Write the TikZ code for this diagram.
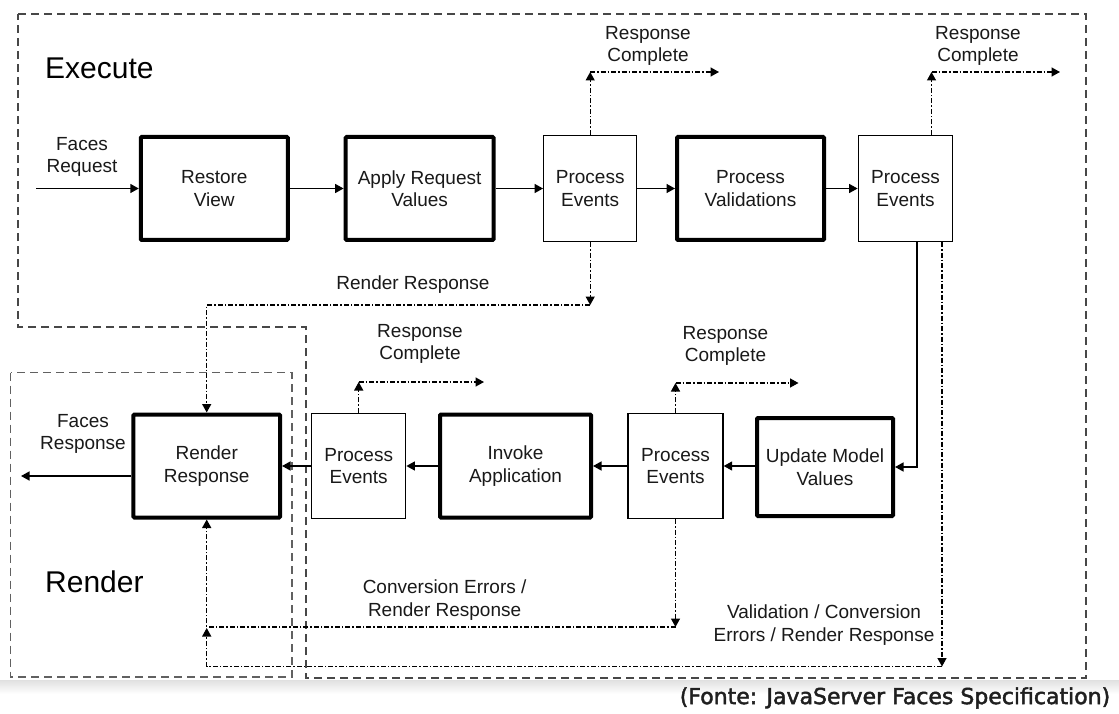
\documentclass[tikz,border=0pt]{standalone}
\usepackage{fontspec}
\setmainfont{Liberation Sans}
\newfontfamily\footfont[FakeBold=2]{DejaVu Sans}
\usetikzlibrary{arrows.meta}

\begin{document}
\begin{tikzpicture}[x=1pt,y=-1pt,
  lbl/.style={font=\fontsize{19}{22.5}\selectfont, align=center, inner sep=0pt, text=black!90},
  phasetitle/.style={font=\fontsize{30}{36}\selectfont, anchor=west, inner sep=0pt},
  phase/.style={draw, fill=white, line width=4pt, rounded corners=1pt,
    minimum width=147pt, minimum height=103pt, lbl},
  evbox/.style={draw, fill=white, line width=1.3pt,
    minimum width=94pt, minimum height=106pt, lbl},
  tip/.style={-{Triangle[length=8.5pt,width=9pt]}},
  main/.style={line width=1.4pt, tip},
  flow/.style={line width=1.4pt, dash pattern=on 5pt off 2pt on 1.5pt off 2pt, tip},
  region/.style={draw=black!72, line width=1.4pt, dash pattern=on 8pt off 5pt}
]
\useasboundingbox (0,0) rectangle (1119,714);
\fill[white] (0,0) rectangle (1119,714);
\shade[top color=black!12, bottom color=white] (0,680) rectangle (1119,694);

% phase regions
\draw[region] (18,14) -- (1086,14) -- (1086,678) -- (306,678) -- (306,327) -- (18,327) -- cycle;
\draw[region, draw=black!62] (10.7,372.7) rectangle (292,677);
\node[phasetitle] (exec) at (45,68) {Execute};
\node[phasetitle] (rend) at (45,582) {Render};

% execute row
\node[phase] (RV) at (214.3,188.5) {Restore\\View};
\node[phase, minimum width=148pt] (ARV) at (419.6,188.5) {Apply Request\\Values};
\node[evbox, minimum width=93pt] (PE1) at (590.2,188.5) {Process\\Events};
\node[phase] (PV) at (750.5,188.5) {Process\\Validations};
\node[evbox, minimum width=94.5pt] (PE2) at (905.5,188.5) {Process\\Events};

% render row
\node[phase, minimum width=146.6pt] (RR) at (206.7,466) {Render\\Response};
\node[evbox, minimum height=105pt] (PE3) at (358.7,466) {Process\\Events};
\node[phase, minimum width=151pt] (IA) at (515.5,466) {Invoke\\Application};
\node[evbox, minimum width=95pt, minimum height=105pt] (PE4) at (675.5,466) {Process\\Events};
\node[phase, minimum width=136pt, minimum height=98pt] (UMV) at (825,467) {Update Model\\Values};

% request / response ends
\coordinate (fin) at (36,188.5);
\coordinate (fout) at (21,476);
\draw[main] (fin) -- (RV.west);
\draw[main] (RR.west |- fout) -- (fout);
\node[lbl] (lreq) at (82,157) {Faces\\Request};
\node[lbl] (lresp) at (83,434) {Faces\\Response};

% main flow
\draw[main] (RV.east) -- (ARV.west);
\draw[main] (ARV.east) -- (PE1.west);
\draw[main] (PE1.east) -- (PV.west);
\draw[main] (PV.east) -- (PE2.west);
\coordinate (um) at (917,467);
\draw[main] (um |- PE2.south) -- (um) -- (UMV.east);
\draw[main] (UMV.west |- PE4.east) -- (PE4.east);
\draw[main] (PE4.west) -- (IA.east);
\draw[main] (IA.west) -- (PE3.east);
\draw[main] (PE3.west) -- (RR.east);

% response complete exits
\coordinate (rc1) at (590.2,72);  \coordinate (rc1e) at (719,72);
\draw[flow] (PE1.north) -- (rc1);
\draw[flow] (rc1) -- (rc1e);
\node[lbl] (lrc1) at (648,46) {Response\\Complete};

\coordinate (rc2) at (931.5,72);  \coordinate (rc2e) at (1060,72);
\draw[flow] (rc2 |- PE2.north) -- (rc2);
\draw[flow] (rc2) -- (rc2e);
\node[lbl] (lrc2) at (978,46) {Response\\Complete};

\coordinate (rc3) at (358.7,382); \coordinate (rc3e) at (484,382);
\draw[flow] (PE3.north) -- (rc3);
\draw[flow] (rc3) -- (rc3e);
\node[lbl] (lrc3) at (420,344) {Response\\Complete};

\coordinate (rc4) at (675.5,383); \coordinate (rc4e) at (798.5,383);
\draw[flow] (PE4.north) -- (rc4);
\draw[flow] (rc4) -- (rc4e);
\node[lbl] (lrc4) at (725.5,346) {Response\\Complete};

% jumps to render response
\coordinate (rr1) at (590.2,305);
\draw[flow] (PE1.south) -- (rr1);
\draw[flow] (rr1) -| (RR.north);
\node[lbl] (lrr) at (413,285) {Render Response};

\coordinate (ce) at (675.5,627);
\draw[flow] (PE4.south) -- (ce);
\draw[flow] (ce) -| (RR.south);
\node[lbl] (lce) at (444.6,600) {Conversion Errors /\\Render Response};

\coordinate (ve) at (942,666.5);
\coordinate (vj) at (206.7,628);
\draw[flow] (ve |- PE2.south) -- (ve);
\draw[flow] (ve) -| (vj);
\node[lbl] (lve) at (824,625) {Validation / Conversion\\Errors / Render Response};

% source note
\node[font=\footfont\fontsize{22}{26}\selectfont, text=black!88, inner sep=0pt] (src) at (895,698) {(Fonte: JavaServer Faces Specification)};
\end{tikzpicture}
\end{document}
